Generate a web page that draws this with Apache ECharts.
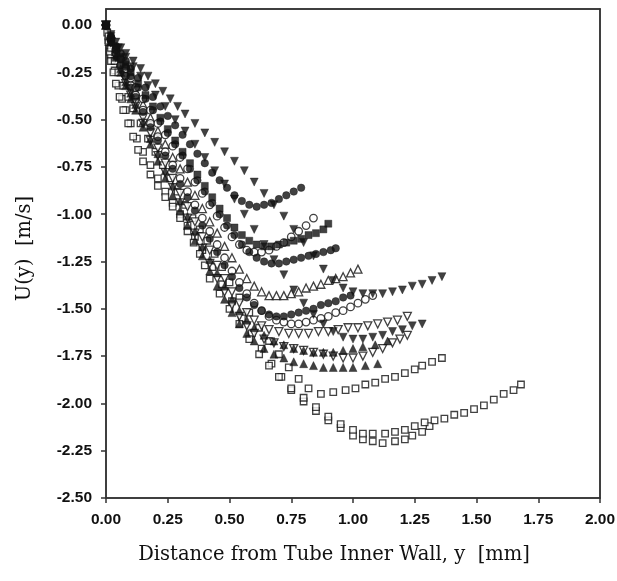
<!DOCTYPE html>
<html>
<head>
<meta charset="utf-8">
<script src="https://cdn.jsdelivr.net/npm/echarts@6/dist/echarts.min.js"></script>
<style>html,body{margin:0;padding:0;background:#fff}#c{width:617px;height:581px}</style>
</head>
<body>
<div id="c"></div>
<script>
// ---- Data ----
const xTicks = [0, 0.25, 0.5, 0.75, 1.0, 1.25, 1.5, 1.75, 2.0];
const yTicks = [-2.5, -2.25, -2.0, -1.75, -1.5, -1.25, -1.0, -0.75, -0.5, -0.25, 0];
const xTitle = "Distance from Tube Inner Wall, y  [mm]";
const yTitle = "U(y)  [m/s]";

const sqB = [[0,0],[0.005,-0.04],[0.01,-0.09],[0.015,-0.14],[0.02,-0.19],[0.03,-0.25],[0.04,-0.31],[0.055,-0.38],[0.07,-0.45],[0.09,-0.52],[0.11,-0.59],[0.13,-0.66],[0.15,-0.72],[0.18,-0.79],[0.21,-0.85],[0.24,-0.91],[0.27,-0.96],[0.3,-1.02],[0.33,-1.09],[0.355,-1.15],[0.38,-1.21],[0.4,-1.27],[0.42,-1.34],[0.46,-1.42],[0.5,-1.5],[0.54,-1.58],[0.58,-1.66],[0.62,-1.74],[0.66,-1.8],[0.7,-1.86],[0.75,-1.92],[0.8,-1.97],[0.85,-2.02],[0.9,-2.07],[0.95,-2.11],[1.0,-2.14],[1.04,-2.16],[1.08,-2.16],[1.13,-2.16],[1.17,-2.15],[1.21,-2.14],[1.25,-2.12],[1.29,-2.1],[1.33,-2.09],[1.37,-2.08],[1.41,-2.06],[1.45,-2.05],[1.49,-2.03],[1.53,-2.01],[1.57,-1.98],[1.61,-1.95],[1.65,-1.93],[1.68,-1.9]];
const sqC = [[0,0],[0.01,-0.08],[0.02,-0.16],[0.035,-0.24],[0.05,-0.32],[0.065,-0.39],[0.08,-0.45],[0.1,-0.52],[0.125,-0.6],[0.15,-0.67],[0.18,-0.74],[0.21,-0.81],[0.24,-0.88],[0.27,-0.94],[0.3,-1.0],[0.33,-1.06],[0.36,-1.12],[0.39,-1.19],[0.43,-1.28],[0.47,-1.37],[0.51,-1.46],[0.55,-1.55],[0.59,-1.63],[0.63,-1.71],[0.67,-1.79],[0.71,-1.86],[0.75,-1.93],[0.8,-1.99],[0.85,-2.04],[0.9,-2.09],[0.95,-2.13],[1.0,-2.17],[1.04,-2.19],[1.08,-2.2],[1.12,-2.21],[1.17,-2.2],[1.21,-2.19],[1.24,-2.17],[1.28,-2.15],[1.31,-2.12]];
const sqA = [[0,0],[0.01,-0.06],[0.02,-0.12],[0.035,-0.19],[0.05,-0.25],[0.07,-0.32],[0.09,-0.38],[0.11,-0.44],[0.14,-0.52],[0.17,-0.6],[0.2,-0.67],[0.23,-0.74],[0.26,-0.81],[0.29,-0.88],[0.32,-0.95],[0.35,-1.02],[0.38,-1.08],[0.41,-1.14],[0.44,-1.21],[0.47,-1.28],[0.5,-1.36],[0.54,-1.44],[0.58,-1.52],[0.62,-1.6],[0.66,-1.67],[0.7,-1.74],[0.74,-1.81],[0.78,-1.87],[0.82,-1.92],[0.87,-1.95],[0.92,-1.94],[0.97,-1.93],[1.01,-1.92],[1.05,-1.9],[1.09,-1.89],[1.13,-1.87],[1.17,-1.86],[1.21,-1.84],[1.25,-1.82],[1.28,-1.8],[1.32,-1.78],[1.36,-1.76]];
const triDnA = [[0,0],[0.02,-0.05],[0.04,-0.09],[0.06,-0.12],[0.08,-0.15],[0.11,-0.19],[0.14,-0.23],[0.17,-0.27],[0.2,-0.31],[0.23,-0.35],[0.26,-0.39],[0.29,-0.43],[0.32,-0.47],[0.36,-0.52],[0.4,-0.57],[0.44,-0.62],[0.48,-0.67],[0.52,-0.72],[0.56,-0.77],[0.6,-0.83],[0.64,-0.89],[0.68,-0.95],[0.72,-1.01],[0.76,-1.08],[0.8,-1.15],[0.84,-1.22],[0.88,-1.29],[0.92,-1.35],[0.96,-1.39],[1.0,-1.41],[1.04,-1.42],[1.08,-1.42],[1.12,-1.42],[1.16,-1.41],[1.2,-1.4],[1.24,-1.38],[1.28,-1.37],[1.32,-1.35],[1.36,-1.33]];
const triDnB = [[0,0],[0.02,-0.06],[0.05,-0.12],[0.08,-0.17],[0.11,-0.22],[0.14,-0.27],[0.17,-0.32],[0.2,-0.37],[0.24,-0.43],[0.28,-0.5],[0.32,-0.56],[0.36,-0.63],[0.4,-0.7],[0.44,-0.77],[0.48,-0.84],[0.52,-0.92],[0.56,-1.0],[0.6,-1.08],[0.64,-1.16],[0.68,-1.24],[0.72,-1.32],[0.76,-1.4],[0.8,-1.47],[0.84,-1.53],[0.88,-1.58],[0.92,-1.62],[0.96,-1.65],[1.0,-1.66],[1.04,-1.66],[1.08,-1.65],[1.12,-1.64],[1.16,-1.62],[1.2,-1.61],[1.24,-1.59],[1.28,-1.58]];
const dotA = [[0,0],[0.02,-0.06],[0.04,-0.11],[0.06,-0.15],[0.08,-0.19],[0.1,-0.23],[0.13,-0.28],[0.16,-0.33],[0.19,-0.38],[0.22,-0.43],[0.25,-0.48],[0.28,-0.53],[0.31,-0.58],[0.34,-0.63],[0.37,-0.68],[0.4,-0.73],[0.43,-0.78],[0.46,-0.82],[0.49,-0.86],[0.52,-0.9],[0.55,-0.93],[0.58,-0.95],[0.61,-0.96],[0.64,-0.95],[0.67,-0.94],[0.7,-0.92],[0.73,-0.9],[0.76,-0.88],[0.79,-0.86]];
const sqFill = [[0,0],[0.02,-0.07],[0.04,-0.12],[0.06,-0.17],[0.08,-0.21],[0.1,-0.25],[0.13,-0.31],[0.16,-0.37],[0.19,-0.43],[0.22,-0.49],[0.25,-0.55],[0.28,-0.61],[0.31,-0.67],[0.34,-0.73],[0.37,-0.79],[0.4,-0.85],[0.43,-0.91],[0.46,-0.97],[0.49,-1.02],[0.52,-1.07],[0.55,-1.11],[0.58,-1.14],[0.61,-1.16],[0.64,-1.17],[0.67,-1.17],[0.7,-1.16],[0.73,-1.15],[0.76,-1.14],[0.79,-1.13],[0.82,-1.11],[0.85,-1.1],[0.88,-1.08],[0.9,-1.05]];
const dotB = [[0,0],[0.02,-0.07],[0.04,-0.13],[0.06,-0.18],[0.08,-0.22],[0.1,-0.27],[0.13,-0.33],[0.16,-0.39],[0.19,-0.45],[0.22,-0.51],[0.25,-0.57],[0.28,-0.63],[0.31,-0.69],[0.34,-0.76],[0.37,-0.82],[0.4,-0.88],[0.43,-0.94],[0.46,-1.0],[0.49,-1.06],[0.52,-1.11],[0.55,-1.16],[0.58,-1.2],[0.61,-1.23],[0.64,-1.25],[0.67,-1.26],[0.7,-1.26],[0.73,-1.25],[0.76,-1.24],[0.79,-1.23],[0.82,-1.22],[0.85,-1.21],[0.88,-1.2],[0.91,-1.19],[0.93,-1.18]];
const circA = [[0,0],[0.02,-0.07],[0.04,-0.13],[0.06,-0.18],[0.08,-0.23],[0.1,-0.28],[0.12,-0.33],[0.15,-0.39],[0.18,-0.45],[0.21,-0.52],[0.24,-0.58],[0.27,-0.64],[0.3,-0.7],[0.33,-0.76],[0.36,-0.83],[0.39,-0.89],[0.42,-0.95],[0.45,-1.01],[0.48,-1.07],[0.51,-1.12],[0.54,-1.16],[0.57,-1.19],[0.6,-1.2],[0.63,-1.2],[0.66,-1.19],[0.69,-1.17],[0.72,-1.15],[0.75,-1.12],[0.78,-1.09],[0.81,-1.06],[0.84,-1.02]];
const triUpOpen = [[0,0],[0.02,-0.08],[0.04,-0.14],[0.06,-0.2],[0.08,-0.25],[0.1,-0.3],[0.12,-0.35],[0.15,-0.42],[0.18,-0.49],[0.21,-0.56],[0.24,-0.63],[0.27,-0.7],[0.3,-0.76],[0.33,-0.83],[0.36,-0.9],[0.39,-0.97],[0.42,-1.04],[0.45,-1.1],[0.48,-1.17],[0.51,-1.23],[0.54,-1.29],[0.57,-1.34],[0.6,-1.38],[0.63,-1.41],[0.66,-1.43],[0.69,-1.43],[0.72,-1.43],[0.75,-1.42],[0.78,-1.41],[0.81,-1.39],[0.84,-1.38],[0.87,-1.37],[0.9,-1.35],[0.93,-1.34],[0.96,-1.33],[0.99,-1.31],[1.02,-1.29]];
const circB = [[0,0],[0.02,-0.08],[0.04,-0.15],[0.06,-0.21],[0.08,-0.27],[0.1,-0.32],[0.12,-0.37],[0.15,-0.45],[0.18,-0.52],[0.21,-0.59],[0.24,-0.67],[0.27,-0.74],[0.3,-0.81],[0.33,-0.88],[0.36,-0.95],[0.39,-1.02],[0.42,-1.09],[0.45,-1.16],[0.48,-1.23],[0.51,-1.3],[0.54,-1.36],[0.57,-1.42],[0.6,-1.47],[0.63,-1.51],[0.66,-1.54],[0.69,-1.56],[0.72,-1.57],[0.75,-1.58],[0.78,-1.58],[0.81,-1.57],[0.84,-1.56],[0.87,-1.55],[0.9,-1.54],[0.93,-1.52],[0.96,-1.51],[0.99,-1.49],[1.02,-1.47],[1.05,-1.45],[1.08,-1.43]];
const dotC = [[0,0],[0.02,-0.08],[0.04,-0.15],[0.06,-0.21],[0.08,-0.27],[0.1,-0.33],[0.12,-0.38],[0.15,-0.46],[0.18,-0.54],[0.21,-0.61],[0.24,-0.69],[0.27,-0.76],[0.3,-0.84],[0.33,-0.91],[0.36,-0.98],[0.39,-1.06],[0.42,-1.13],[0.45,-1.2],[0.48,-1.27],[0.51,-1.33],[0.54,-1.39],[0.57,-1.44],[0.6,-1.48],[0.63,-1.51],[0.66,-1.53],[0.69,-1.54],[0.72,-1.54],[0.75,-1.53],[0.78,-1.52],[0.81,-1.51],[0.84,-1.5],[0.87,-1.48],[0.9,-1.47],[0.93,-1.46],[0.96,-1.44],[0.99,-1.43]];
const triDnOpenA = [[0,0],[0.02,-0.09],[0.04,-0.16],[0.06,-0.23],[0.08,-0.29],[0.1,-0.35],[0.12,-0.41],[0.15,-0.49],[0.18,-0.57],[0.21,-0.65],[0.24,-0.73],[0.27,-0.81],[0.3,-0.89],[0.33,-0.96],[0.36,-1.04],[0.39,-1.12],[0.42,-1.19],[0.45,-1.27],[0.48,-1.34],[0.51,-1.41],[0.54,-1.47],[0.57,-1.52],[0.6,-1.56],[0.63,-1.59],[0.66,-1.61],[0.7,-1.62],[0.74,-1.63],[0.78,-1.63],[0.82,-1.63],[0.86,-1.62],[0.9,-1.62],[0.94,-1.61],[0.98,-1.6],[1.02,-1.6],[1.06,-1.59],[1.1,-1.58],[1.14,-1.57],[1.18,-1.56],[1.22,-1.54]];
const triDnOpenB = [[0,0],[0.02,-0.09],[0.04,-0.17],[0.06,-0.24],[0.08,-0.31],[0.1,-0.37],[0.12,-0.43],[0.15,-0.52],[0.18,-0.61],[0.21,-0.69],[0.24,-0.78],[0.27,-0.86],[0.3,-0.94],[0.33,-1.02],[0.36,-1.1],[0.39,-1.18],[0.42,-1.26],[0.45,-1.34],[0.48,-1.41],[0.51,-1.48],[0.54,-1.54],[0.57,-1.59],[0.6,-1.63],[0.64,-1.66],[0.68,-1.68],[0.72,-1.7],[0.76,-1.71],[0.8,-1.72],[0.84,-1.73],[0.88,-1.74],[0.92,-1.75],[0.96,-1.76],[1.0,-1.76],[1.04,-1.75],[1.08,-1.73],[1.12,-1.71],[1.16,-1.68],[1.19,-1.66],[1.22,-1.64]];
const triUpA = [[0,0],[0.02,-0.09],[0.04,-0.17],[0.06,-0.25],[0.08,-0.32],[0.1,-0.39],[0.12,-0.45],[0.15,-0.54],[0.18,-0.63],[0.21,-0.72],[0.24,-0.81],[0.27,-0.9],[0.3,-0.98],[0.33,-1.06],[0.36,-1.14],[0.39,-1.22],[0.42,-1.3],[0.45,-1.38],[0.48,-1.45],[0.51,-1.52],[0.54,-1.58],[0.57,-1.63],[0.6,-1.67],[0.64,-1.71],[0.68,-1.74],[0.72,-1.76],[0.76,-1.78],[0.8,-1.79],[0.84,-1.8],[0.88,-1.81],[0.92,-1.81],[0.96,-1.81],[1.0,-1.81],[1.05,-1.8],[1.1,-1.79]];
const triUpB = [[0,0],[0.02,-0.09],[0.04,-0.16],[0.06,-0.23],[0.08,-0.3],[0.1,-0.36],[0.12,-0.42],[0.15,-0.51],[0.18,-0.6],[0.21,-0.68],[0.24,-0.77],[0.27,-0.85],[0.3,-0.93],[0.33,-1.01],[0.36,-1.09],[0.39,-1.17],[0.42,-1.24],[0.45,-1.31],[0.48,-1.38],[0.51,-1.45],[0.54,-1.51],[0.57,-1.56],[0.6,-1.6],[0.64,-1.64],[0.68,-1.67],[0.72,-1.69],[0.76,-1.71],[0.8,-1.72],[0.84,-1.73],[0.88,-1.73],[0.92,-1.73],[0.96,-1.72],[1.0,-1.71],[1.04,-1.7],[1.09,-1.69],[1.14,-1.67]];

// ---- Chart ----
const INK = '#111';
function mk(name, data, symbol, filled, rotate, size) {
  return {
    name: name, type: 'scatter', data: data, symbol: symbol,
    symbolRotate: rotate || 0, symbolSize: size,
    itemStyle: filled ? {color: INK, borderColor: INK, borderWidth: 0.5}
                      : {color: '#fff', borderColor: INK, borderWidth: 1.3},
    emphasis: {disabled: true}, silent: true, z: 3
  };
}
const series = [
  mk('sqC', sqC, 'rect', false, 0, 6.5),
  mk('sqB', sqB, 'rect', false, 0, 6.5),
  mk('sqA', sqA, 'rect', false, 0, 6.5),
  mk('triDnOpenB', triDnOpenB, 'triangle', false, 180, 8),
  mk('triDnOpenA', triDnOpenA, 'triangle', false, 180, 8),
  mk('triUpOpen', triUpOpen, 'triangle', false, 0, 8),
  mk('circB', circB, 'circle', false, 0, 7.5),
  mk('circA', circA, 'circle', false, 0, 7.5),
  mk('triUpA', triUpA, 'triangle', true, 0, 8),
  mk('triUpB', triUpB, 'triangle', true, 0, 8),
  mk('dotC', dotC, 'circle', true, 0, 7.5),
  mk('dotB', dotB, 'circle', true, 0, 7.5),
  mk('sqFill', sqFill, 'rect', true, 0, 7),
  mk('dotA', dotA, 'circle', true, 0, 7.5),
  mk('triDnB', triDnB, 'triangle', true, 180, 8),
  mk('triDnA', triDnA, 'triangle', true, 180, 8)
];

const axisLineStyle = {color: '#333', width: 1.5};
const labelFont = {fontFamily: '"Liberation Sans", Arial, sans-serif', fontWeight: 'bold', fontSize: 15.5, color: INK};
const titleFont = {fontFamily: '"DejaVu Serif", serif', fontSize: 19.5, color: INK};

const chart = echarts.init(document.getElementById('c'), null, {renderer: 'canvas'});
chart.setOption({
  animation: false,
  backgroundColor: '#fff',
  grid: {left: 106, right: 17, top: 9, bottom: 83, outerBoundsMode: 'none',
         show: true, borderColor: '#333', borderWidth: 1.5},
  xAxis: [{
    type: 'value', min: 0, max: 2.0, interval: 0.25,
    axisLine: {show: true, onZero: false, lineStyle: axisLineStyle},
    axisTick: {show: true, inside: false, length: 5, lineStyle: axisLineStyle, customValues: xTicks},
    axisLabel: Object.assign({margin: 14, customValues: xTicks, formatter: v => v.toFixed(2)}, labelFont),
    splitLine: {show: false},
    name: xTitle, nameLocation: 'middle', nameGap: 47,
    nameTextStyle: Object.assign({padding: [0, 38, 0, 0]}, titleFont)
  }, {
    type: 'value', position: 'top', min: 0, max: 2.0,
    axisLine: {show: true, onZero: false, lineStyle: axisLineStyle},
    axisTick: {show: false}, axisLabel: {show: false}, splitLine: {show: false}
  }],
  yAxis: [{
    type: 'value', min: -2.5, max: 0.085, interval: 0.25,
    axisLine: {show: true, onZero: false, lineStyle: axisLineStyle},
    axisTick: {show: true, inside: false, length: 5, lineStyle: axisLineStyle, customValues: yTicks},
    axisLabel: Object.assign({margin: 14, customValues: yTicks, formatter: v => (Math.abs(v) < 1e-9 ? 0 : v).toFixed(2)}, labelFont),
    splitLine: {show: false},
    name: yTitle, nameLocation: 'middle', nameRotate: 90, nameGap: 71,
    nameTextStyle: Object.assign({padding: [0, 0, 0, 10]}, titleFont)
  }, {
    type: 'value', position: 'right', min: -2.5, max: 0.085,
    axisLine: {show: true, onZero: false, lineStyle: axisLineStyle},
    axisTick: {show: false}, axisLabel: {show: false}, splitLine: {show: false}
  }],
  series: series
});
</script>
</body>
</html>
